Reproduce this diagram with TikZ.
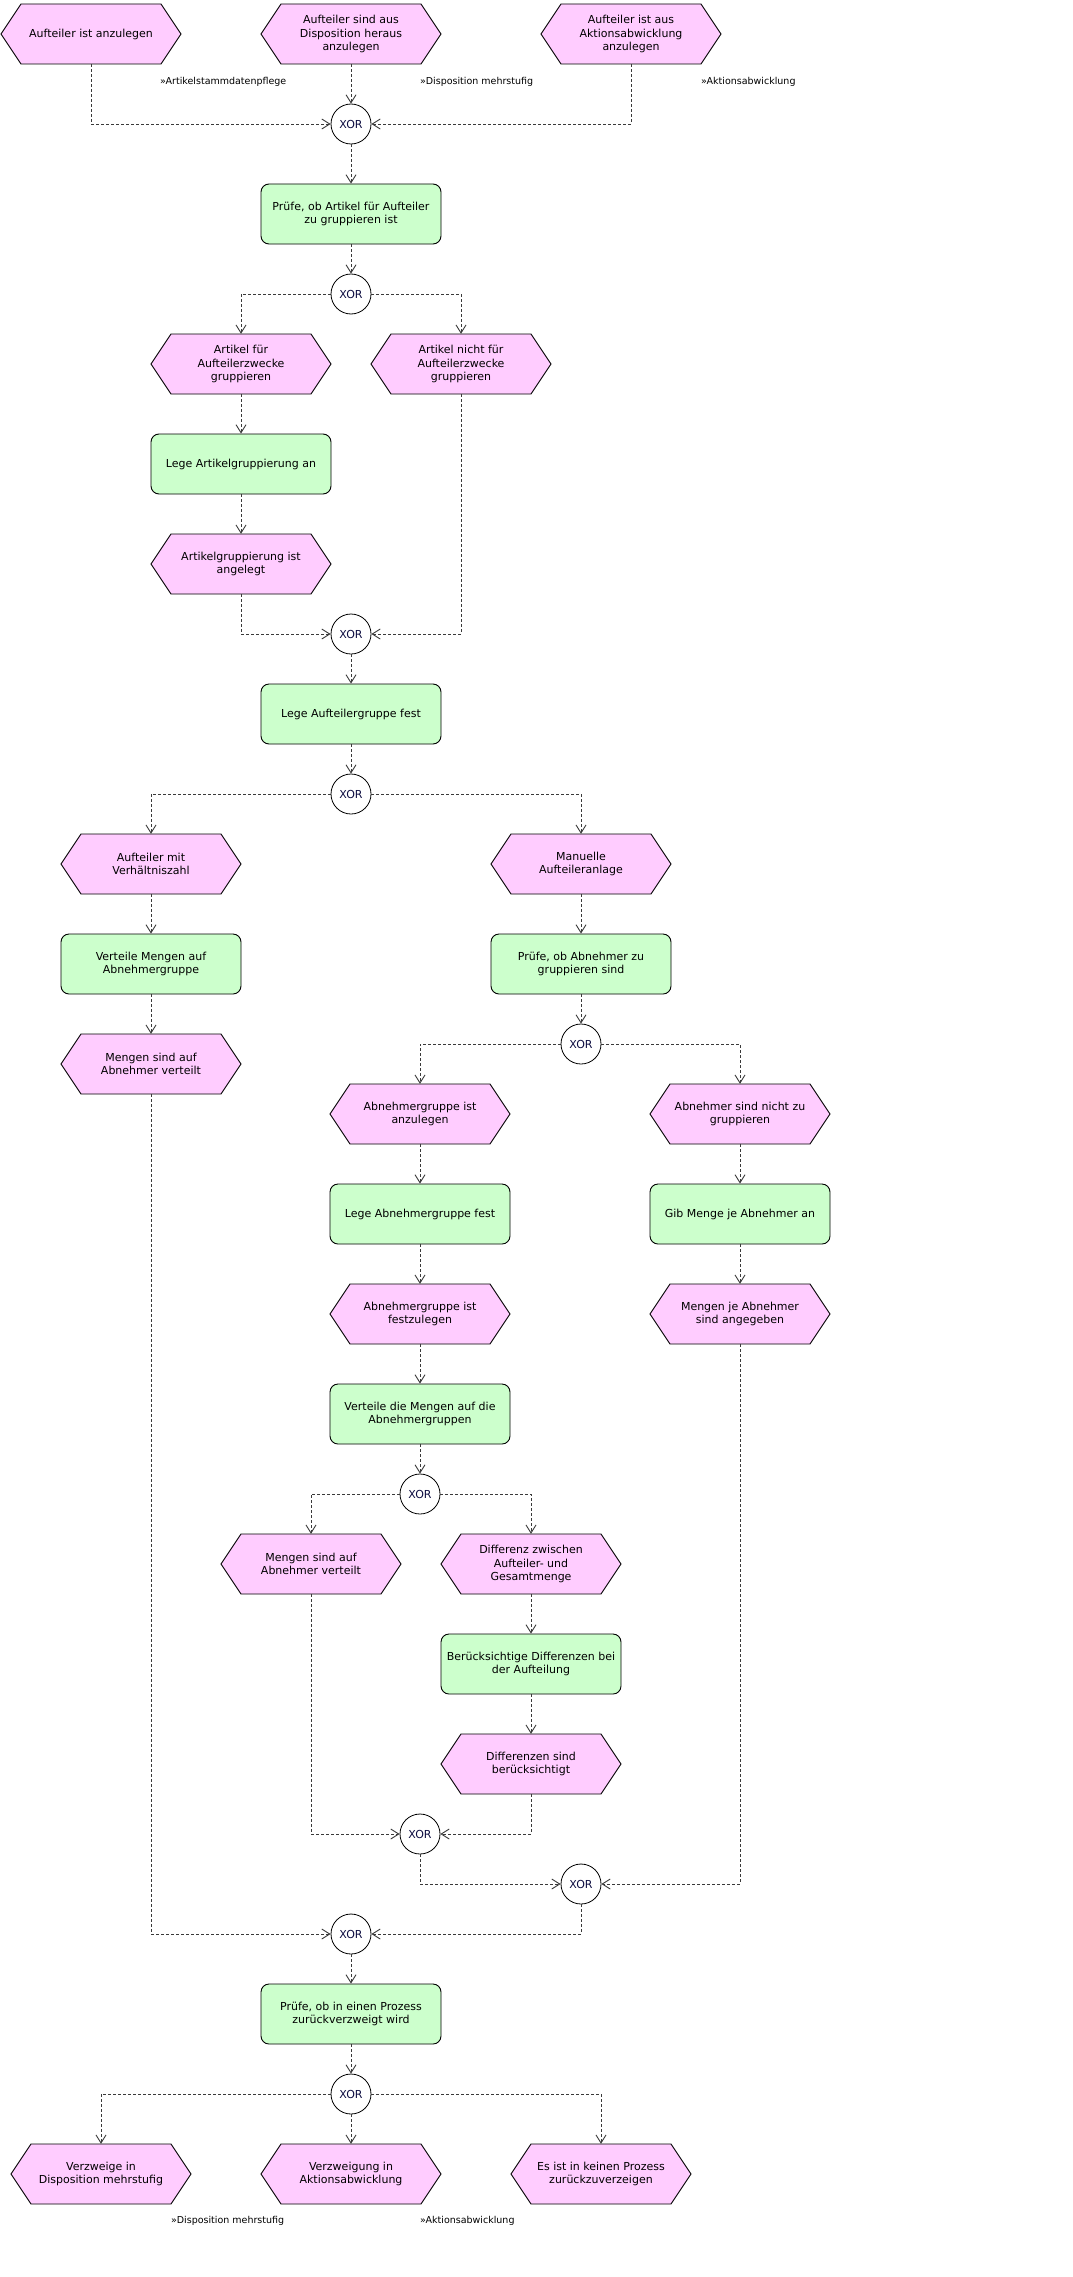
\documentclass[tikz,border=0pt]{standalone}
\usepackage{fontspec}
\newfontfamily\dv{DejaVu Sans}
\usetikzlibrary{arrows.meta}
\definecolor{evcol}{HTML}{FFCCFF}
\definecolor{fncol}{HTML}{CCFFCC}
\definecolor{xorcol}{HTML}{0C0C40}
\definecolor{linecol}{HTML}{3A3A3A}
\tikzset{
  evtshape/.style={fill=evcol,draw=black,line width=0.9pt,line join=miter},
  evt/.style={minimum width=180pt,minimum height=60pt,inner sep=2pt,align=center,
    font=\dv\fontsize{11}{13.5}\selectfont},
  fn/.style={draw=black,line width=0.9pt,fill=fncol,rounded corners=8pt,
    minimum width=180pt,minimum height=60pt,inner sep=2pt,align=center,
    font=\dv\fontsize{11}{13.5}\selectfont},
  xor/.style={circle,draw=black,line width=0.8pt,fill=white,minimum size=40pt,inner sep=0pt,
    text=xorcol,font=\dv\fontsize{11}{13}\selectfont},
  lbl/.style={anchor=west,inner sep=0pt,font=\dv\fontsize{9.5}{11}\selectfont},
  flow/.style={draw=linecol,line width=0.9pt,dash pattern=on 3pt off 2pt,
    -{Straight Barb[length=8pt,width=10pt,line width=0.9pt]}}
}
\newcommand\evnode[4]{%
  \path[evtshape] ({#2-90},#3) -- ({#2-70},{#3-30}) -- ({#2+70},{#3-30}) -- ({#2+90},#3)
    -- ({#2+70},{#3+30}) -- ({#2-70},{#3+30}) -- cycle;
  \node[evt] (#1) at (#2,#3) {#4};}
\begin{document}
\begin{tikzpicture}[x=1pt,y=-1pt]
\useasboundingbox[fill=white] (0,0) rectangle (1072,2277);
% top events
\evnode{e1}{91}{34}{Aufteiler ist anzulegen}
\evnode{e2}{351}{34}{Aufteiler sind aus\\Disposition heraus\\anzulegen}
\evnode{e3}{631}{34}{Aufteiler ist aus\\Aktionsabwicklung\\anzulegen}
\node[lbl] (l1) at (160,82) {»Artikelstammdatenpflege};
\node[lbl] (l2) at (420,82) {»Disposition mehrstufig};
\node[lbl] (l3) at (701,82) {»Aktionsabwicklung};
\node[xor] (x1) at (351,124) {XOR};
\node[fn] (f1) at (351,214) {Prüfe, ob Artikel für Aufteiler\\zu gruppieren ist};
\node[xor] (x2) at (351,294) {XOR};
\evnode{e4}{241}{364}{Artikel für\\Aufteilerzwecke\\gruppieren}
\evnode{e5}{461}{364}{Artikel nicht für\\Aufteilerzwecke\\gruppieren}
\node[fn] (f2) at (241,464) {Lege Artikelgruppierung an};
\evnode{e6}{241}{564}{Artikelgruppierung ist\\angelegt}
\node[xor] (x3) at (351,634) {XOR};
\node[fn] (f3) at (351,714) {Lege Aufteilergruppe fest};
\node[xor] (x4) at (351,794) {XOR};
\evnode{e7}{151}{864}{Aufteiler mit\\Verhältniszahl}
\evnode{e8}{581}{864}{Manuelle\\Aufteileranlage}
\node[fn] (f4) at (151,964) {Verteile Mengen auf\\Abnehmergruppe};
\node[fn] (f5) at (581,964) {Prüfe, ob Abnehmer zu\\gruppieren sind};
\evnode{e9}{151}{1064}{Mengen sind auf\\Abnehmer verteilt}
\node[xor] (x5) at (581,1044) {XOR};
\evnode{e10}{420}{1114}{Abnehmergruppe ist\\anzulegen}
\evnode{e11}{740}{1114}{Abnehmer sind nicht zu\\gruppieren}
\node[fn] (f6) at (420,1214) {Lege Abnehmergruppe fest};
\node[fn] (f7) at (740,1214) {Gib Menge je Abnehmer an};
\evnode{e12}{420}{1314}{Abnehmergruppe ist\\festzulegen}
\evnode{e13}{740}{1314}{Mengen je Abnehmer\\sind angegeben}
\node[fn] (f8) at (420,1414) {Verteile die Mengen auf die\\Abnehmergruppen};
\node[xor] (x6) at (420,1494) {XOR};
\evnode{e14}{311}{1564}{Mengen sind auf\\Abnehmer verteilt}
\evnode{e15}{531}{1564}{Differenz zwischen\\Aufteiler- und\\Gesamtmenge}
\node[fn] (f9) at (531,1664) {Berücksichtige Differenzen bei\\der Aufteilung};
\evnode{e16}{531}{1764}{Differenzen sind\\berücksichtigt}
\node[xor] (x7) at (420,1834) {XOR};
\node[xor] (x8) at (581,1884) {XOR};
\node[xor] (x9) at (351,1934) {XOR};
\node[fn] (f10) at (351,2014) {Prüfe, ob in einen Prozess\\zurückverzweigt wird};
\node[xor] (x10) at (351,2094) {XOR};
\evnode{e17}{101}{2174}{Verzweige in\\Disposition mehrstufig}
\evnode{e18}{351}{2174}{Verzweigung in\\Aktionsabwicklung}
\evnode{e19}{601}{2174}{Es ist in keinen Prozess\\zurückzuverzeigen}
\node[lbl] (l4) at (171,2221) {»Disposition mehrstufig};
\node[lbl] (l5) at (420,2221) {»Aktionsabwicklung};
% connectors
\draw[flow] (e1.south) |- (x1.west);
\draw[flow] (e2.south) -- (x1.north);
\draw[flow] (e3.south) |- (x1.east);
\draw[flow] (x1.south) -- (f1.north);
\draw[flow] (f1.south) -- (x2.north);
\draw[flow] (x2.west) -| (e4.north);
\draw[flow] (x2.east) -| (e5.north);
\draw[flow] (e4.south) -- (f2.north);
\draw[flow] (f2.south) -- (e6.north);
\draw[flow] (e6.south) |- (x3.west);
\draw[flow] (e5.south) |- (x3.east);
\draw[flow] (x3.south) -- (f3.north);
\draw[flow] (f3.south) -- (x4.north);
\draw[flow] (x4.west) -| (e7.north);
\draw[flow] (x4.east) -| (e8.north);
\draw[flow] (e7.south) -- (f4.north);
\draw[flow] (f4.south) -- (e9.north);
\draw[flow] (e8.south) -- (f5.north);
\draw[flow] (f5.south) -- (x5.north);
\draw[flow] (x5.west) -| (e10.north);
\draw[flow] (x5.east) -| (e11.north);
\draw[flow] (e10.south) -- (f6.north);
\draw[flow] (f6.south) -- (e12.north);
\draw[flow] (e12.south) -- (f8.north);
\draw[flow] (f8.south) -- (x6.north);
\draw[flow] (e11.south) -- (f7.north);
\draw[flow] (f7.south) -- (e13.north);
\draw[flow] (x6.west) -| (e14.north);
\draw[flow] (x6.east) -| (e15.north);
\draw[flow] (e15.south) -- (f9.north);
\draw[flow] (f9.south) -- (e16.north);
\draw[flow] (e14.south) |- (x7.west);
\draw[flow] (e16.south) |- (x7.east);
\draw[flow] (x7.south) |- (x8.west);
\draw[flow] (e13.south) |- (x8.east);
\draw[flow] (e9.south) |- (x9.west);
\draw[flow] (x8.south) |- (x9.east);
\draw[flow] (x9.south) -- (f10.north);
\draw[flow] (f10.south) -- (x10.north);
\draw[flow] (x10.west) -| (e17.north);
\draw[flow] (x10.south) -- (e18.north);
\draw[flow] (x10.east) -| (e19.north);
\end{tikzpicture}
\end{document}
